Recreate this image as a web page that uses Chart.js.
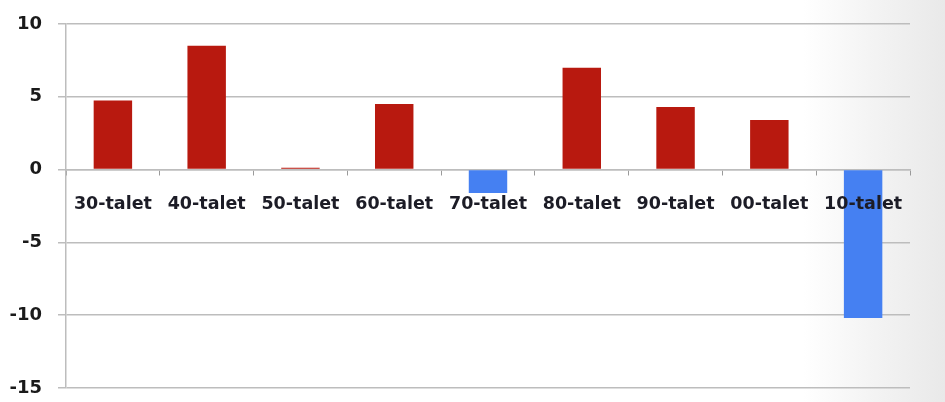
<!DOCTYPE html>
<html>
<head>
<meta charset="utf-8">
<script src="https://cdn.jsdelivr.net/npm/chart.js@4"></script>
<style>
    html, body {
        margin: 0;
        padding: 0;
        width: 945px;
        height: 402px;
        overflow: hidden;
    }
    body {
        background: linear-gradient(to right, #ffffff 0%, #ffffff 85%, #f4f4f4 92%, #e9e9e9 100%);
    }
    #wrap {
        position: relative;
        width: 945px;
        height: 402px;
    }
</style>
</head>
<body>
<div id="wrap"><canvas id="chart"></canvas></div>
<script>
// ── DATA ──
const decades = ['30-talet','40-talet','50-talet','60-talet','70-talet','80-talet','90-talet','00-talet','10-talet'];
const values  = [4.75, 8.5, 0.12, 4.5, -1.6, 7.0, 4.3, 3.4, -10.2];
const yTicks  = [10, 5, 0, -5, -10, -15];

const RED  = '#b8190f';
const BLUE = '#4580f2';
const GRID = '#bdbdbd';

new Chart(document.getElementById('chart'), {
    type: 'bar',
    data: {
        labels: decades,
        datasets: [{
            data: values,
            backgroundColor: values.map(v => v < 0 ? BLUE : RED),
            borderWidth: 0,
            barPercentage: 0.41,
            categoryPercentage: 1,
        }]
    },
    options: {
        responsive: true,
        maintainAspectRatio: false,
        animation: false,
        layout: { padding: { left: 0, top: 24, right: 35, bottom: 14 } },
        plugins: {
            legend: { display: false },
            tooltip: { enabled: false }
        },
        scales: {
            x: {
                position: { y: 0 },
                offset: true,
                afterFit: scale => { scale.height = 0; },
                grid: {
                    display: true,
                    offset: true,
                    drawOnChartArea: false,
                    drawTicks: true,
                    tickLength: 5,
                    color: '#9a9a9a'
                },
                border: { display: true, color: GRID, width: 1.5 },
                ticks: {
                    z: 1,   // labels sit on top of the bars
                    color: '#1c1c26',
                    padding: 19,
                    maxRotation: 0,
                    autoSkip: false,
                    font: { family: 'DejaVu Sans', size: 17.5, weight: 'bold' }
                }
            },
            y: {
                min: -15,
                max: 10,
                afterFit: scale => {
                    scale.width = 66;
                    // label padding shouldn't push the plot area in
                    scale.paddingTop = 0;
                    scale.paddingBottom = 0;
                },
                afterBuildTicks: scale => { scale.ticks = yTicks.map(v => ({ value: v })); },
                grid: {
                    color: GRID,
                    lineWidth: 1.5,
                    drawTicks: true,
                    tickLength: 8
                },
                border: { display: true, color: GRID, width: 1.5 },
                ticks: {
                    color: '#1a1a1a',
                    padding: 16,
                    font: { family: 'DejaVu Sans', size: 18, weight: 'bold' }
                }
            }
        }
    }
});
</script>
</body>
</html>
